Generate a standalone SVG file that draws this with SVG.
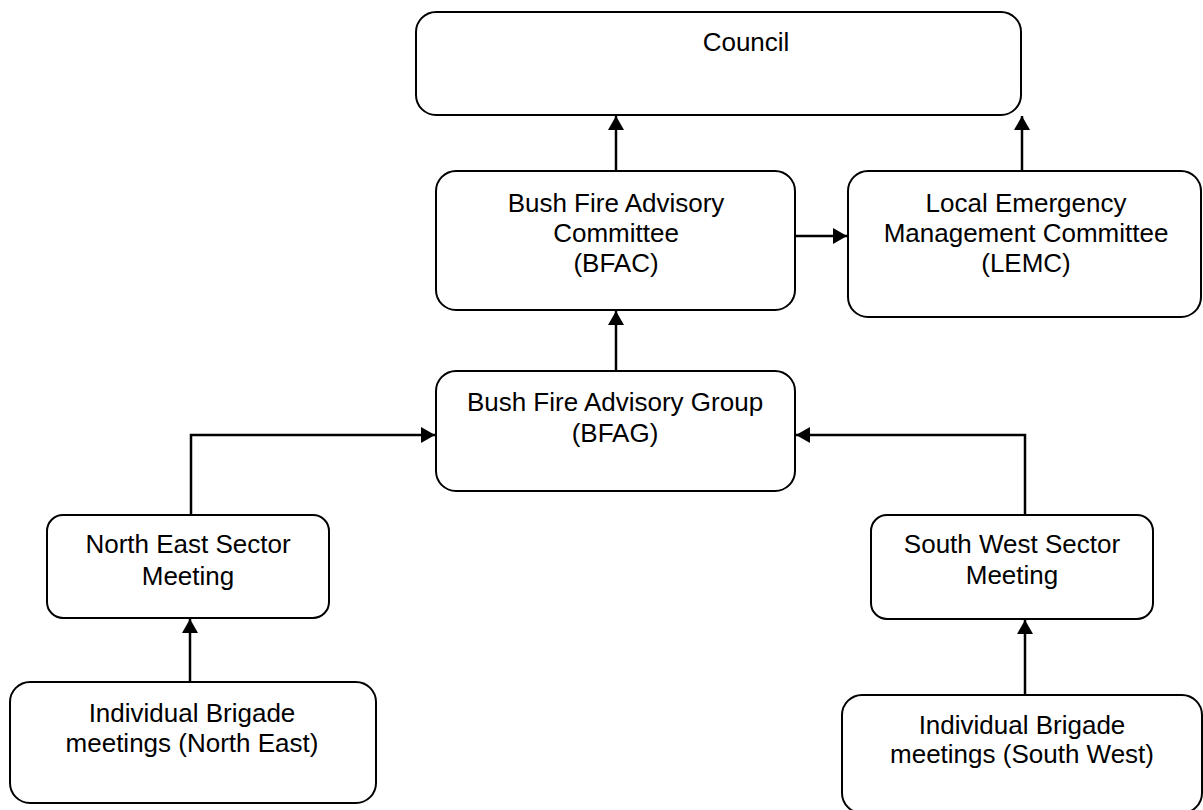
<svg xmlns="http://www.w3.org/2000/svg" width="1203" height="810" viewBox="0 0 1203 810">
<style>
.box{fill:#fff;stroke:#000;stroke-width:2}
.t{font-family:"Liberation Sans",Arial,sans-serif;font-size:26px;fill:#000;text-anchor:middle}
.c{fill:none;stroke:#000;stroke-width:2.5}
</style>
<defs>
<marker id="ah" viewBox="0 0 14 16" refX="14" refY="8" markerWidth="14" markerHeight="16" markerUnits="userSpaceOnUse" orient="auto">
<path d="M0,0 L14,8 L0,16 Z" fill="#000"/>
</marker>
</defs>
<rect width="1203" height="810" fill="#fff"/>
<g id="connectors">
<path class="c" d="M616,170 V116" marker-end="url(#ah)"/>
<path class="c" d="M1022,170 V116" marker-end="url(#ah)"/>
<path class="c" d="M795,236 H847" marker-end="url(#ah)"/>
<path class="c" d="M616,371 V311" marker-end="url(#ah)"/>
<path class="c" d="M191,515 V435 H435" marker-end="url(#ah)"/>
<path class="c" d="M1025,515 V435 H796" marker-end="url(#ah)"/>
<path class="c" d="M190,682 V619" marker-end="url(#ah)"/>
<path class="c" d="M1025,695 V620" marker-end="url(#ah)"/>
</g>
<g id="council">
<rect class="box" x="416" y="12" width="605" height="103" rx="20"/>
<text class="t" x="746" y="51">Council</text>
</g>
<g id="bfac">
<rect class="box" x="436" y="171" width="359" height="139" rx="20"/>
<text class="t" x="616" y="212">Bush Fire Advisory</text>
<text class="t" x="616" y="242">Committee</text>
<text class="t" x="616" y="272">(BFAC)</text>
</g>
<g id="lemc">
<rect class="box" x="848" y="171" width="353" height="146" rx="20"/>
<text class="t" x="1026" y="212">Local Emergency</text>
<text class="t" x="1026" y="242">Management Committee</text>
<text class="t" x="1026" y="272">(LEMC)</text>
</g>
<g id="bfag">
<rect class="box" x="436" y="371" width="359" height="120" rx="20"/>
<text class="t" x="615" y="411">Bush Fire Advisory Group</text>
<text class="t" x="615" y="442">(BFAG)</text>
</g>
<g id="ne-sector">
<rect class="box" x="47" y="515" width="282" height="103" rx="16"/>
<text class="t" x="188" y="553">North East Sector</text>
<text class="t" x="188" y="585">Meeting</text>
</g>
<g id="sw-sector">
<rect class="box" x="871" y="515" width="282" height="104" rx="16"/>
<text class="t" x="1012" y="553">South West Sector</text>
<text class="t" x="1012" y="584">Meeting</text>
</g>
<g id="ne-brigades">
<rect class="box" x="10" y="682" width="366" height="121" rx="20"/>
<text class="t" x="192" y="722">Individual Brigade</text>
<text class="t" x="192" y="752">meetings (North East)</text>
</g>
<g id="sw-brigades">
<rect class="box" x="842" y="695" width="360" height="118" rx="20"/>
<text class="t" x="1022" y="734">Individual Brigade</text>
<text class="t" x="1022" y="763">meetings (South West)</text>
</g>
</svg>
